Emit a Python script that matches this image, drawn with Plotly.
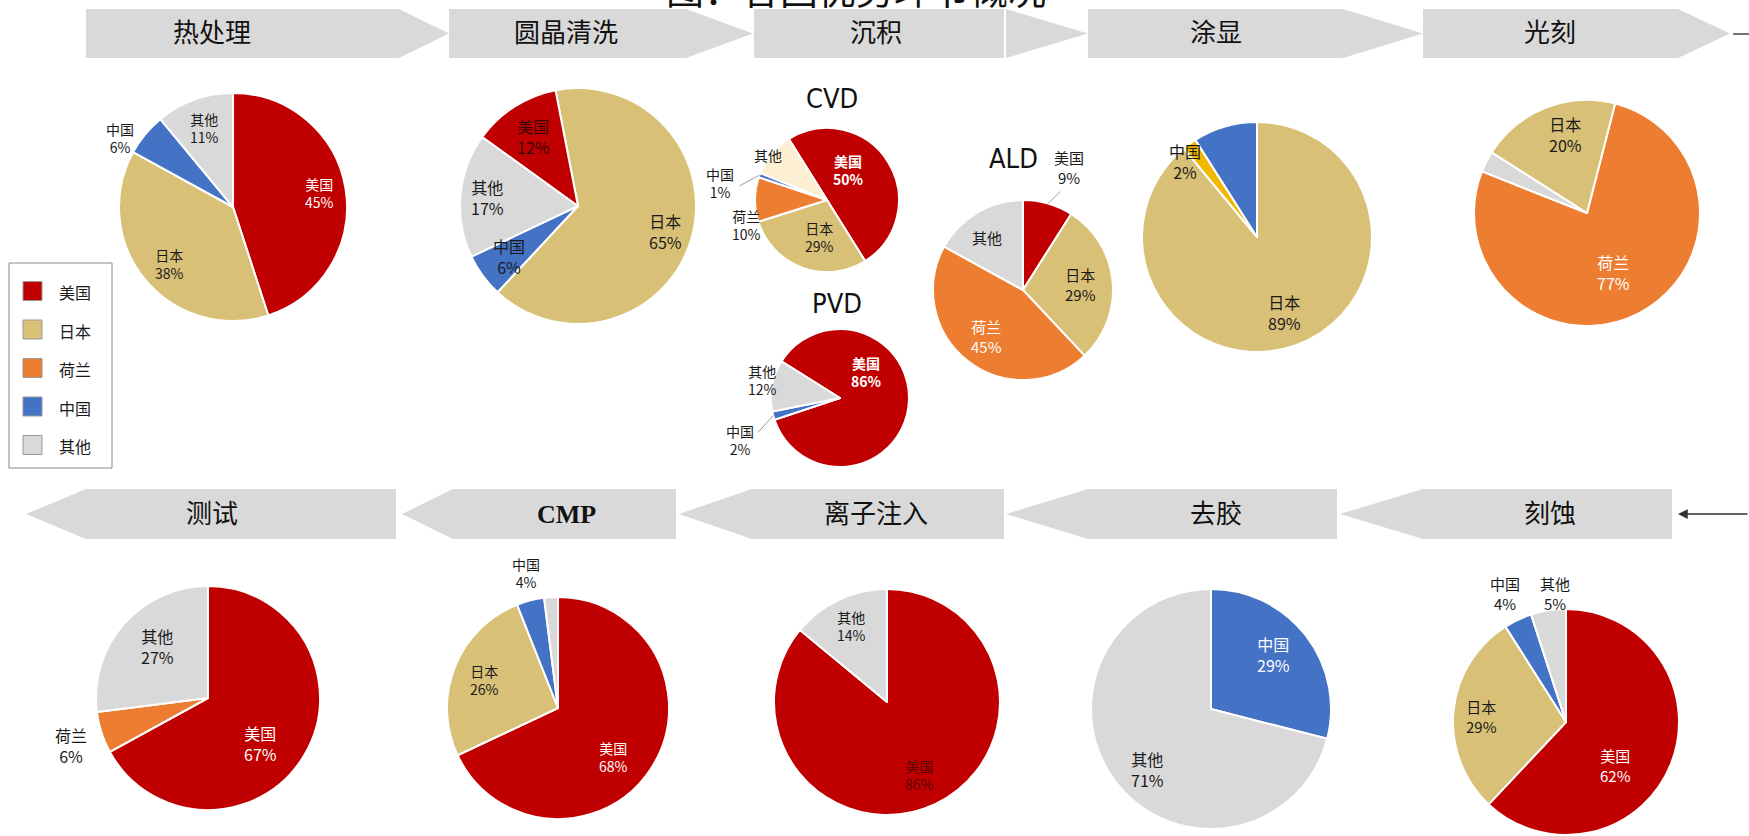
import math
import plotly.graph_objects as go

W, H = 1749, 836

# ---------------- data ----------------
categories = ['美国', '日本', '荷兰', '中国', '其他']
cat_colors = ['#C00000', '#D9C077', '#ED7D31', '#4472C4', '#D9D9D9']

top_stages = ['热处理', '圆晶清洗', '沉积', '涂显', '光刻']
bottom_stages = ['测试', 'CMP', '离子注入', '去胶', '刻蚀']
sub_titles = ['CVD', 'PVD', 'ALD']

heat_labels = ['美国', '日本', '中国', '其他']
heat_values = [45, 38, 6, 11]
wafer_labels = ['日本', '中国', '其他', '美国']
wafer_values = [65, 6, 17, 12]
cvd_labels = ['美国', '日本', '荷兰', '中国', '其他']
cvd_values = [50, 29, 10, 1, 10]
pvd_labels = ['美国', '中国', '其他']
pvd_values = [86, 2, 12]
ald_labels = ['美国', '日本', '荷兰', '其他']
ald_values = [9, 29, 45, 17]
coat_labels = ['日本', '中国', '其他']
coat_values = [89, 2, 9]
litho_labels = ['荷兰', '其他', '日本']
litho_values = [77, 3, 20]
test_labels = ['美国', '荷兰', '其他']
test_values = [67, 6, 27]
cmp_labels = ['美国', '日本', '中国', '其他']
cmp_values = [68, 26, 4, 2]
implant_labels = ['美国', '其他']
implant_values = [86, 14]
strip_labels = ['中国', '其他']
strip_values = [29, 71]
etch_labels = ['美国', '日本', '中国', '其他']
etch_values = [62, 29, 4, 5]

# ---------------- styling / layout ----------------
COL = dict(zip(categories, cat_colors))
DARK = '#1a1a1a'
WH = 'white'
CJK = 'Noto Sans CJK SC'

def px(x):
    return x / W

def py(y):
    return 1 - y / H

def clamp(v):
    return min(1.0, max(0.0, v))

# label spec per slice: (radial fraction, angle offset deg, colour, mode, leader)
pies = [
    dict(labels=heat_labels, values=heat_values, c=(233, 207), r=114, rot=0,
         spec=[(0.77, 0, WH, 'both'), (0.75, -2, DARK, 'both'), (1.16, -8, DARK, 'both'), (0.74, 0, DARK, 'both')], fs=14),
    dict(labels=wafer_labels, values=wafer_values, c=(578, 206), r=118, rot=-11,
         spec=[(0.77, 0, DARK, 'both'), (0.72, 0, DARK, 'both'), (0.77, 0, DARK, 'both'), (0.70, 0, '#3a0000', 'both')], fs=16),
    dict(labels=cvd_labels, values=cvd_values, c=(827, 200), r=72, rot=-32,
         colors={'其他': '#FDEFD2'},
         spec=[(0.51, -23, WH, 'bold'), (0.52, -9, DARK, 'both'), (1.17, -18, DARK, 'both'),
               (1.51, -11, DARK, 'both', True), (1.03, -3, DARK, 'name')], fs=14),
    dict(labels=pvd_labels, values=pvd_values, c=(840, 398), r=69, rot=-58,
         spec=[(0.54, -51, WH, 'bold'), (1.57, -8, DARK, 'both', True), (1.15, 3, DARK, 'both')], fs=14),
    dict(labels=ald_labels, values=ald_values, c=(1023, 290), r=90, rot=0,
         spec=[(1.45, 4.5, DARK, 'both', True), (0.64, 0, DARK, 'both'), (0.66, 0, WH, 'both'), (0.71, -3.5, DARK, 'name')], fs=15),
    dict(labels=coat_labels, values=coat_values, c=(1257, 237), r=115, rot=0,
         colors={'中国': '#F2B800', '其他': '#4472C4'},
         spec=[(0.70, 0, DARK, 'both'), (0.91, -7.5, DARK, 'both'), None], fs=16),
    dict(labels=litho_labels, values=litho_values, c=(1587, 213), r=113, rot=14.4,
         spec=[(0.58, 3, WH, 'both'), None, (0.72, 6, DARK, 'both')], fs=16),
    dict(labels=test_labels, values=test_values, c=(208, 698), r=112, rot=0,
         spec=[(0.62, 10, WH, 'both'), (1.29, -1, DARK, 'both'), (0.64, 4, DARK, 'both')], fs=16),
    dict(labels=cmp_labels, values=cmp_values, c=(558, 708), r=111, rot=0,
         spec=[(0.67, 9, WH, 'both'), (0.71, -1, DARK, 'both'), (1.25, 1, DARK, 'both'), None], fs=14),
    dict(labels=implant_labels, values=implant_values, c=(887, 702), r=113, rot=0,
         spec=[(0.71, 1, '#5a0000', 'both'), (0.74, 0, DARK, 'both')], fs=14),
    dict(labels=strip_labels, values=strip_values, c=(1211, 709), r=120, rot=0,
         spec=[(0.69, -3, WH, 'both'), (0.73, -6, DARK, 'both')], fs=16),
    dict(labels=etch_labels, values=etch_values, c=(1566, 722), r=113, rot=0,
         spec=[(0.58, 20, WH, 'both'), (0.75, -2, DARK, 'both'), (1.26, 0, DARK, 'both'), (1.14, 4, DARK, 'both')], fs=15),
]

fig = go.Figure()
annotations = []
shapes = []

def note(x, y, text, font, xanchor='center', yanchor='middle', **kw):
    d = dict(x=px(x), y=py(y), xref='paper', yref='paper', text=text, showarrow=False,
             font=font, xanchor=xanchor, yanchor=yanchor)
    d.update(kw)
    annotations.append(d)

for p in pies:
    cx, cy = p['c']
    r = p['r']
    over = p.get('colors', {})
    colors = [over.get(l, COL[l]) for l in p['labels']]
    fig.add_trace(go.Pie(
        labels=p['labels'], values=p['values'],
        domain=dict(x=[clamp(px(cx - r)), clamp(px(cx + r))], y=[clamp(py(cy + r)), clamp(py(cy - r))]),
        rotation=p['rot'], direction='clockwise', sort=False,
        marker=dict(colors=colors, line=dict(color='white', width=2)),
        textinfo='none', hoverinfo='label+percent', showlegend=False,
    ))
    total = sum(p['values'])
    cum = 0
    for lab, v, sp in zip(p['labels'], p['values'], p['spec']):
        mid = p['rot'] + (cum + v / 2) / total * 360
        cum += v
        if sp is None:
            continue
        frac, dang, color, mode = sp[:4]
        leader = len(sp) > 4 and sp[4]
        a = math.radians(mid + dang)
        lx = cx + frac * r * math.sin(a)
        ly = cy - frac * r * math.cos(a)
        if mode == 'both':
            txt = f'{lab}<br>{v}%'
        elif mode == 'bold':
            txt = f'<b>{lab}<br>{v}%</b>'
        else:
            txt = lab
        note(lx, ly, txt, dict(family=CJK, size=p['fs'], color=color))
        if leader:
            am = math.radians(mid)
            x0 = cx + 1.0 * r * math.sin(am)
            y0 = cy - 1.0 * r * math.cos(am)
            x1 = cx + (frac - 0.28) * r * math.sin(a)
            y1 = cy - (frac - 0.28) * r * math.cos(a)
            shapes.append(dict(type='line', xref='paper', yref='paper', x0=px(x0), y0=py(y0),
                               x1=px(x1), y1=py(y1), line=dict(color='#9a9a9a', width=1)))

# ---------------- banners ----------------
BANNER = '#D9D9D9'
top_y = (9, 58)
top_banners = [(86, 399, 449, 0), (449, 686, 753, 0), (754, 1004, 1088, 2), (1088, 1343, 1423, 0), (1423, 1678, 1730, 0)]
for x0, x1, tip, gap in top_banners:
    t, b = top_y
    m = (t + b) / 2
    if gap:
        path = (f'M {px(x0)},{py(t)} L {px(x1)},{py(t)} L {px(x1)},{py(b)} L {px(x0)},{py(b)} Z '
                f'M {px(x1 + gap)},{py(t)} L {px(tip)},{py(m)} L {px(x1 + gap)},{py(b)} Z')
    else:
        path = (f'M {px(x0)},{py(t)} L {px(x1)},{py(t)} L {px(tip)},{py(m)} '
                f'L {px(x1)},{py(b)} L {px(x0)},{py(b)} Z')
    shapes.append(dict(type='path', xref='paper', yref='paper', path=path,
                       fillcolor=BANNER, line=dict(width=0), layer='below'))

bot_y = (489, 539)
bottom_banners = [(26, 86, 396), (402, 453, 676), (679, 752, 1004), (1006, 1088, 1337), (1340, 1423, 1672)]
for tip, x0, x1 in bottom_banners:
    t, b = bot_y
    m = (t + b) / 2
    path = (f'M {px(tip)},{py(m)} L {px(x0)},{py(t)} L {px(x1)},{py(t)} '
            f'L {px(x1)},{py(b)} L {px(x0)},{py(b)} Z')
    shapes.append(dict(type='path', xref='paper', yref='paper', path=path,
                       fillcolor=BANNER, line=dict(width=0), layer='below'))

BANNER_FONT = dict(family='Liberation Serif, ' + CJK, size=26, color='#111111')
col_centers = [212, 566, 876, 1216, 1550]
for name, xc in zip(top_stages, col_centers):
    note(xc, 33, name, BANNER_FONT)
for name, xc in zip(bottom_stages, col_centers):
    txt = f'<b>{name}</b>' if name.isascii() else name
    note(xc, 514, txt, BANNER_FONT)

# top-right connector line and bottom-right arrow
shapes.append(dict(type='line', xref='paper', yref='paper', x0=px(1733), y0=py(34), x1=px(1749), y1=py(34),
                   line=dict(color='#444444', width=1.5)))
annotations.append(dict(x=px(1678), y=py(514), xref='paper', yref='paper', text='', showarrow=True,
                        ax=71, ay=0, arrowhead=2, arrowsize=1.3, arrowwidth=1.5, arrowcolor='#333333'))

# sub titles
SUB_FONT = dict(family='Liberation Sans Narrow, DejaVu Sans Condensed, sans-serif', size=27, color='#111111')
for name, (sx, sy) in zip(sub_titles, [(832, 98), (837, 303), (1013, 158)]):
    note(sx, sy, name, SUB_FONT)

# title (cut off at top, as in the source)
note(856, 17, '图：各国优势环节概况', dict(family=CJK, size=38, color='#111111'), yanchor='bottom')

# ---------------- legend box ----------------
shapes.append(dict(type='rect', xref='paper', yref='paper', x0=px(9), y0=py(263), x1=px(112), y1=py(468),
                   line=dict(color='#8a8a8a', width=1), fillcolor='white'))
for i, (name, color) in enumerate(zip(categories, cat_colors)):
    yc = 291 + i * 38.5
    shapes.append(dict(type='rect', xref='paper', yref='paper', x0=px(23), y0=py(yc - 9.5),
                       x1=px(42), y1=py(yc + 9.5), fillcolor=color, line=dict(color='#999999', width=1)))
    note(57, yc + 1, name, dict(family=CJK, size=16, color=DARK), xanchor='left')

fig.update_layout(
    width=W, height=H,
    margin=dict(l=0, r=0, t=0, b=0),
    paper_bgcolor='white', plot_bgcolor='white',
    shapes=shapes, annotations=annotations,
    showlegend=False,
)

fig.write_html('out.html')
